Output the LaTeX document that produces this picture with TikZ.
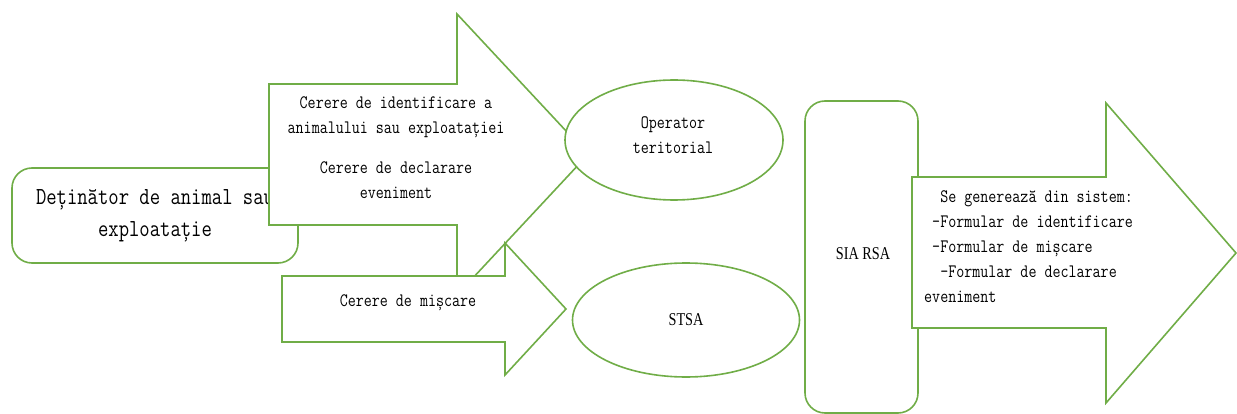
\documentclass[tikz,border=0pt]{standalone}
\usepackage{fontspec}
\newfontfamily\lserif{Liberation Serif}
\usetikzlibrary{shapes.geometric}
\definecolor{ogreen}{HTML}{70AD47}
\newcommand{\sqz}[1]{\scalebox{0.82}[1]{#1}}
\tikzset{
  shapeline/.style={draw=ogreen, line width=1.6pt, fill=white, line join=miter},
  rbox/.style={shapeline, rounded corners=20pt, inner sep=0pt},
  oval/.style={shapeline, ellipse, inner sep=0pt},
  monotxt/.style={font=\ttfamily\fontsize{19}{25}\selectfont, align=center, inner sep=0pt},
}
\begin{document}
\begin{tikzpicture}[x=1pt,y=-1pt]
\useasboundingbox (0,0) rectangle (1237,414);
% holder box
\node[rbox, minimum width=286pt, minimum height=95pt,
      font=\ttfamily\fontsize{24.5}{32}\selectfont, align=center]
  (holder) at (155,215.5) {\sqz{Deținător de animal sau}\\\sqz{exploatație}};
% arrow 1
\draw[shapeline] (269,84) -- (457,84) -- (457,14) -- (588,154.5) -- (457,295)
  -- (457,225) -- (269,225) -- cycle;
\node[monotxt] (req1) at (396,117) {\sqz{Cerere de identificare a}\\\sqz{animalului sau exploatației}};
\node[monotxt] (req2) at (396,180) {\sqz{Cerere de declarare}\\\sqz{eveniment}};
% arrow 2
\draw[shapeline] (282,276) -- (505,276) -- (505,243) -- (566,309) -- (505,375)
  -- (505,342) -- (282,342) -- cycle;
\node[monotxt] (req3) at (408,303) {\sqz{Cerere de mișcare}};
% ellipses
\node[oval, minimum width=218pt, minimum height=120pt] (op) at (674,140) {};
\node[monotxt] (optxt) at (673,135) {\sqz{Operator}\\\sqz{teritorial}};
\node[oval, minimum width=227pt, minimum height=114pt,
      font=\lserif\fontsize{15}{16}\selectfont] (stsa) at (686,320) {\scalebox{0.95}[1.2]{STSA}};
% SIA RSA box
\node[rbox, minimum width=113pt, minimum height=312pt] (sia) at (861.5,257) {};
\node[font=\lserif\fontsize{15}{16}\selectfont, inner sep=0pt] (siatxt) at (863,254) {\scalebox{0.95}[1.2]{SIA RSA}};
% arrow 3
\draw[shapeline] (912,177) -- (1106,177) -- (1106,103) -- (1236,253) -- (1106,403)
  -- (1106,328) -- (912,328) -- cycle;
\node[monotxt, align=left, anchor=north west] (gen) at (924,190)
  {\sqz{~~Se generează din sistem:}\\
   \sqz{~-Formular de identificare}\\
   \sqz{~-Formular de mișcare}\\
   \sqz{~~-Formular de declarare}\\
   \sqz{eveniment}};
\end{tikzpicture}
\end{document}
